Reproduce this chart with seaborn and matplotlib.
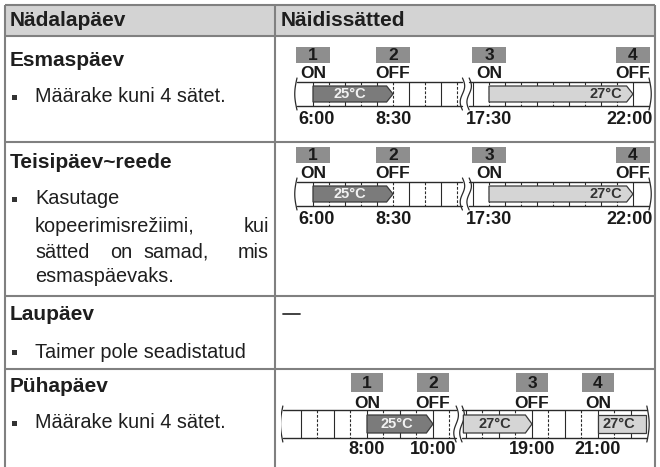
import numpy as np
import matplotlib
matplotlib.use("Agg")
import matplotlib.pyplot as plt
import seaborn as sns
from matplotlib.patches import Rectangle, Polygon

sns.set_style("white")
plt.rcParams['font.family'] = ['Liberation Sans', 'DejaVu Sans']

# --- table text ---
col_headers = ['Nädalapäev', 'Näidissätted']
day_names = ['Esmaspäev', 'Teisipäev~reede', 'Laupäev', 'Pühapäev']
mon_note = 'Määrake kuni 4 sätet.'
tue_note = [['Kasutage'], ['kopeerimisrežiimi,', 'kui'],
            ['sätted', 'on', 'samad,', 'mis'], ['esmaspäevaks.']]
sat_note = 'Taimer pole seadistatud'
sun_note = 'Määrake kuni 4 sätet.'

# --- schedules (hours) ---
mon_times = [6.0, 8.5, 17.5, 22.0]
mon_actions = ['ON', 'OFF', 'ON', 'OFF']
mon_time_labels = ['6:00', '8:30', '17:30', '22:00']
mon_block_start = [6.0, 17.5]
mon_block_end = [8.5, 22.0]
mon_block_temp = ['25°C', '27°C']
mon_view = [(5.5, 10.67), (16.88, 22.5)]

sun_times = [8.0, 10.0, 19.0, 21.0]
sun_actions = ['ON', 'OFF', 'OFF', 'ON']
sun_time_labels = ['8:00', '10:00', '19:00', '21:00']
sun_block_start = [8.0, None, 21.0]   # None = continues from before the break
sun_block_end = [10.0, 19.0, None]    # None = runs past the right edge
sun_block_temp = ['25°C', '27°C', '27°C']
sun_view = [(5.45, 10.7), (16.88, 22.48)]

GAP = 6.0
W, H = 660, 467
fig = plt.figure(figsize=(6.6, 4.67), dpi=100)
ax = fig.add_axes([0, 0, 1, 1])
ax.set_xlim(0, W)
ax.set_ylim(H, 0)
ax.axis('off')

line_c = '#808080'
txt_c = '#1e1e1e'
ax.add_patch(Rectangle((5, 5), 650, 31, facecolor='#d3d3d3', edgecolor='none'))
for y in [5, 36, 142, 296, 369]:
    ax.plot([5, 655], [y, y], color=line_c, lw=1.5, solid_capstyle='butt')
for x in [5, 275, 655]:
    ax.plot([x, x], [5, H], color=line_c, lw=1.5, solid_capstyle='butt')

fb = 15
fr = 14.3
ax.text(10, 21, col_headers[0], fontsize=fb, fontweight='bold', color=txt_c, va='center')
ax.text(281, 21, col_headers[1], fontsize=fb, fontweight='bold', color=txt_c, va='center')
for name, y in zip(day_names, [60, 163, 315, 387]):
    ax.text(10, y, name, fontsize=fb, fontweight='bold', color=txt_c, va='center')


def bullet(y):
    ax.add_patch(Rectangle((12, y - 2.5), 4.5, 5, facecolor='#333333', edgecolor='none'))


bullet(97)
ax.text(35, 97, mon_note, fontsize=fr, color=txt_c, va='center')
bullet(199)
word_x = [[35], [35, 269], [35, 110, 143, 269], [35]]
for words, xs, y in zip(tue_note, word_x, [199, 226, 252, 277]):
    for k, (w, p) in enumerate(zip(words, xs)):
        ha = 'right' if (k == len(words) - 1 and k > 0) else 'left'
        ax.text(p, y, w, fontsize=fr, color=txt_c, va='center', ha=ha)
bullet(352)
ax.text(35, 352, sat_note, fontsize=fr, color=txt_c, va='center')
bullet(423)
ax.text(35, 423, sun_note, fontsize=fr, color=txt_c, va='center')
ax.plot([283, 300], [314, 314], color='#333333', lw=1.3)


def comp(h):
    return h if h < 12 else h - GAP


def timeline(px_top, px_bot, c_lo, c_hi, times, actions, tlabels,
             bstart, bend, btemp, view, geo):
    box_h, on_y, s_top, s_bot, a_top, a_bot, lab_y, bw, tip = geo
    tax = fig.add_axes([281 / W, 1 - px_bot / H, (657 - 281) / W, (px_bot - px_top) / H])
    tax.set_xlim(c_lo, c_hi)
    tax.set_ylim(px_bot - px_top, 0)
    tax.axis('off')
    ink = '#2a2a2a'
    # grid of half hours
    for lo, hi in view:
        tax.plot([comp(lo), comp(hi)], [s_top, s_top], color=ink, lw=1)
        tax.plot([comp(lo), comp(hi)], [s_bot, s_bot], color=ink, lw=1)
        for h in np.arange(np.ceil((lo + 0.1) * 2) / 2, hi - 0.1, 0.5):
            ls = '-' if h == int(h) else (0, (2.5, 1.5))
            tax.plot([comp(h), comp(h)], [s_top, s_bot], color=ink, lw=0.8, linestyle=ls)
    # wavy edges
    t = np.linspace(0, 1, 40)
    ys = s_top - 4 + t * (s_bot - s_top + 8)
    amp = 0.07
    edges = [view[0][0], view[0][1], view[1][0], view[1][1]]
    shapes = [-np.sin(np.pi * t), np.sin(2 * np.pi * t), np.sin(2 * np.pi * t), np.sin(np.pi * t)]
    for e, sh in zip(edges, shapes):
        tax.plot(comp(e) + amp * sh, ys, color=ink, lw=0.9)
    # temperature blocks
    for s, e, temp in zip(bstart, bend, btemp):
        x0 = comp(view[1][0] + 0.04) if s is None else comp(s)
        if e is None:
            x1 = comp(view[1][1]) - 0.04
            pts = [(x0, a_top), (x1, a_top), (x1, a_bot), (x0, a_bot)]
        else:
            x1 = comp(e)
            pts = [(x0, a_top), (x1 - tip, a_top), (x1, (a_top + a_bot) / 2),
                   (x1 - tip, a_bot), (x0, a_bot)]
        dark = temp == '25°C'
        tax.add_patch(Polygon(pts, closed=True, facecolor='#7b7b7b' if dark else '#d5d5d5',
                              edgecolor='#3a3a3a', lw=0.9, zorder=3))
        if dark or len(btemp) > 2:
            tx = (x0 + x1 - tip) / 2
            ha = 'center'
        else:
            tx = x1 - tip - 0.15
            ha = 'right'
        tax.text(tx, (a_top + a_bot) / 2 + 0.5, temp, fontsize=10.5, fontweight='bold',
                 color='#f2f2f2' if dark else '#333333', ha=ha, va='center', zorder=4)
    # event labels
    n = len(times)
    for k, (h, act, lab) in enumerate(zip(times, actions, tlabels)):
        c = comp(h)
        tax.add_patch(Rectangle((c - bw / 2, 5), bw, box_h, facecolor='#8e8e8e', edgecolor='none'))
        tax.text(c, 5 + box_h / 2 + 0.5, str(k + 1), fontsize=12.5, fontweight='bold',
                 color='#1a1a1a', ha='center', va='center')
        tax.text(c, on_y, act, fontsize=12.5, fontweight='bold', color='#1a1a1a',
                 ha='center', va='center')
        # keep the outer time labels inside the strip
        nudge = 0.1 if (k == 0 and c - c_lo < 1.2) else (-0.1 if (k == n - 1 and c_hi - c < 1.2) else 0)
        tax.text(c + nudge, lab_y, lab, fontsize=13, fontweight='bold', color='#1a1a1a',
                 ha='center', va='center')


mon_geo = (16, 31, 40, 64, 44, 60, 78, 1.06, 0.2)
timeline(42, 135, 5.0, 16.75, mon_times, mon_actions, mon_time_labels,
         mon_block_start, mon_block_end, mon_block_temp, mon_view, mon_geo)
timeline(142, 235, 5.0, 16.75, mon_times, mon_actions, mon_time_labels,
         mon_block_start, mon_block_end, mon_block_temp, mon_view, mon_geo)
sun_geo = (19, 35, 42, 70, 47, 65, 82, 0.95, 0.2)
timeline(368, 467, 5.394, 16.788, sun_times, sun_actions, sun_time_labels,
         sun_block_start, sun_block_end, sun_block_temp, sun_view, sun_geo)

fig.savefig('out.png', dpi=100)
